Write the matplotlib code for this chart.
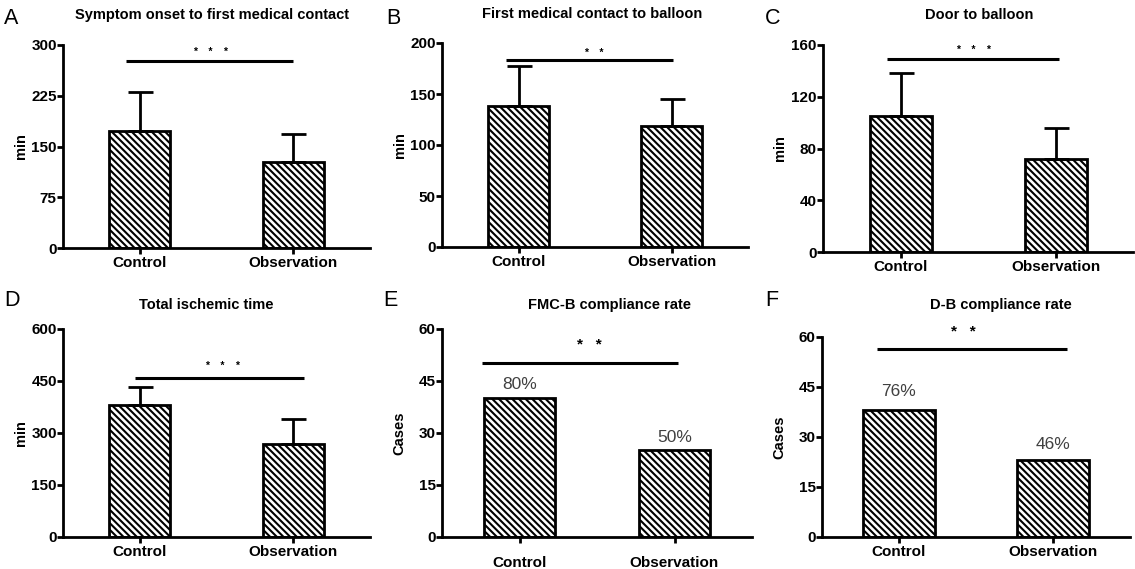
import matplotlib
matplotlib.use("Agg")
import matplotlib.pyplot as plt

plt.rcParams['font.family'] = ['Liberation Sans', 'DejaVu Sans']
plt.rcParams['hatch.linewidth'] = 1.5

# Data
categories = ['Control', 'Observation']

onset_fmc_mean = [173, 127]
onset_fmc_err = [57, 42]

fmc_balloon_mean = [138, 119]
fmc_balloon_err = [39, 26]

door_balloon_mean = [105, 72]
door_balloon_err = [33, 24]

total_ischemic_mean = [381, 268]
total_ischemic_err = [53, 72]

fmcb_cases = [40, 25]
fmcb_rate = ['80%', '50%']

db_cases = [38, 23]
db_rate = ['76%', '46%']

W, H = 1135, 569
fig = plt.figure(figsize=(W / 100, H / 100), dpi=100)


def px_axes(l, r, t, b):
    return fig.add_axes([l / W, 1 - b / H, (r - l) / W, (b - t) / H])


def px_text(x, y, s, **kw):
    fig.text(x / W, 1 - y / H, s, **kw)


def panel(box, letter, letter_xy, title, title_xy, values, ymax, yticks,
          ylabel, errs=None, width=0.4, sig=None, stars=None, rates=None,
          rate_y=None, xpad=2):
    ax = px_axes(*box)
    ax.bar([0, 1], values, width=width, color='white', edgecolor='black',
           linewidth=2, hatch='\\\\\\\\\\', zorder=2)
    if errs is not None:
        ax.errorbar([0, 1], values, yerr=[[0, 0], errs], fmt='none',
                    ecolor='black', elinewidth=2, capsize=9, capthick=2,
                    zorder=3)
    ax.set_xlim(-0.5, 1.5)
    ax.set_ylim(0, ymax)
    ax.set_yticks(yticks)
    ax.set_xticks([0, 1])
    ax.set_xticklabels(categories)
    for s in ['top', 'right']:
        ax.spines[s].set_visible(False)
    for s in ['left', 'bottom']:
        ax.spines[s].set_linewidth(2)
    ax.tick_params(axis='y', length=4, width=2, pad=0.5, labelsize=11)
    ax.tick_params(axis='x', length=4, width=2, pad=xpad, labelsize=11)
    for lab in ax.get_xticklabels() + ax.get_yticklabels():
        lab.set_fontweight('bold')
    ax.set_ylabel(ylabel, fontsize=10.5, fontweight='bold')
    ax.yaxis.set_label_coords(-0.115, 0.5)
    if sig is not None:
        x0, x1, y = sig
        ax.plot([x0, x1], [y, y], color='black', linewidth=2.2,
                solid_capstyle='butt', clip_on=False)
    if stars is not None:
        sx, sy, stext, ssize = stars
        ax.text(sx, sy, stext, ha='center', va='center', fontsize=ssize,
                fontweight='bold', clip_on=False)
    if rates is not None:
        for i, r in enumerate(rates):
            ax.text(i, rate_y[i], r, ha='center', va='center', fontsize=12.5,
                    color='#404040')
    px_text(letter_xy[0], letter_xy[1], letter, fontsize=15.5, ha='left',
            va='center')
    px_text(title_xy[0], title_xy[1], title, fontsize=10.5,
            fontweight='bold', ha='center', va='center')
    return ax


dots3 = '*    *    *'
dots2 = '*    *'

panel((63, 370, 45, 248), 'A', (4, 19), 'Symptom onset to first medical contact',
      (212, 15), onset_fmc_mean, 300, [0, 75, 150, 225, 300], 'min',
      errs=onset_fmc_err, sig=(-0.09, 1.0, 276), stars=(0.46, 290, dots3, 7.5))

panel((442, 748, 43, 247), 'B', (386, 19), 'First medical contact to balloon',
      (592, 14), fmc_balloon_mean, 200, [0, 50, 100, 150, 200], 'min',
      errs=fmc_balloon_err, sig=(-0.08, 1.01, 183), stars=(0.49, 190, dots2, 7.5))

panel((823, 1133, 45, 252), 'C', (765, 19), 'Door to balloon',
      (979, 15), door_balloon_mean, 160, [0, 40, 80, 120, 160], 'min',
      errs=door_balloon_err, sig=(-0.09, 1.02, 149), stars=(0.47, 156, dots3, 7.5))

panel((63, 370, 329, 537), 'D', (4, 301), 'Total ischemic time',
      (206, 305), total_ischemic_mean, 600, [0, 150, 300, 450, 600], 'min',
      errs=total_ischemic_err, sig=(-0.03, 1.07, 460), stars=(0.54, 494, dots3, 7.5))

panel((442, 752, 329, 537), 'E', (383, 301), 'FMC-B compliance rate',
      (609, 305), fmcb_cases, 60, [0, 15, 30, 45, 60], 'Cases',
      width=0.46, sig=(-0.24, 1.02, 50.3), stars=(0.45, 55.5, '*   *', 11),
      rates=fmcb_rate, rate_y=[44, 28.8], xpad=10)

panel((822, 1130, 337, 537), 'F', (765, 301), 'D-B compliance rate',
      (1001, 305), db_cases, 60, [0, 15, 30, 45, 60], 'Cases',
      width=0.47, sig=(-0.14, 1.09, 56.4), stars=(0.42, 61.5, '*   *', 11),
      rates=db_rate, rate_y=[43.5, 27.8], xpad=2)

fig.savefig('out.png', dpi=100, facecolor='white')
